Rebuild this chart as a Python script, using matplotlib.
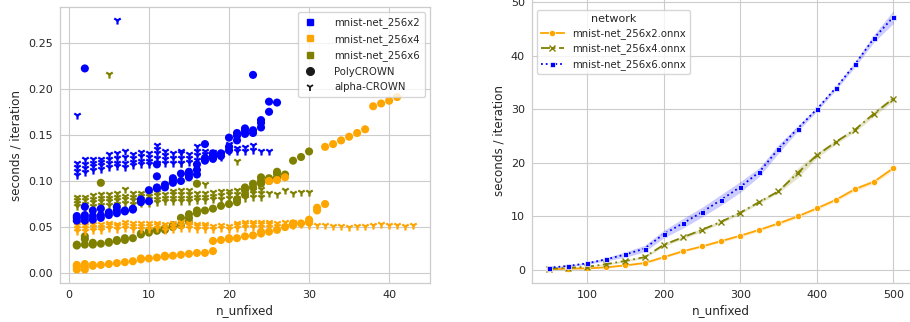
import matplotlib
matplotlib.use("Agg")
import matplotlib.pyplot as plt
from matplotlib.lines import Line2D
import numpy as np

# ---------------- left panel data (scatter) ----------------
poly_256x2_x = list(range(1, 27))
poly_256x2_y = [
    [0.057, 0.060, 0.062], [0.057, 0.060, 0.063, 0.072, 0.222], [0.058, 0.062, 0.068],
    [0.060, 0.063, 0.070], [0.063, 0.066], [0.065, 0.068, 0.072], [0.067, 0.068],
    [0.069, 0.070], [0.077, 0.080], [0.078, 0.090], [0.092, 0.093, 0.105, 0.118],
    [0.093, 0.096], [0.098, 0.101, 0.103], [0.100, 0.108], [0.104, 0.107, 0.110],
    [0.107, 0.112, 0.118], [0.122, 0.125, 0.140], [0.124, 0.127, 0.130], [0.127, 0.130],
    [0.133, 0.137, 0.147], [0.144, 0.149, 0.152], [0.151, 0.154, 0.157],
    [0.152, 0.155, 0.215], [0.158, 0.163, 0.166], [0.175, 0.186], [0.185],
]
alpha_256x2_x = list(range(1, 26))
alpha_256x2_y = [
    [0.107, 0.111, 0.115, 0.119, 0.172], [0.110, 0.114, 0.118, 0.124], [0.112, 0.116, 0.120, 0.124],
    [0.113, 0.117, 0.121, 0.124], [0.115, 0.119, 0.124, 0.129], [0.116, 0.120, 0.125, 0.130, 0.275],
    [0.115, 0.120, 0.126, 0.132], [0.117, 0.121, 0.125, 0.129], [0.118, 0.122, 0.127, 0.131],
    [0.118, 0.122, 0.126, 0.130], [0.120, 0.125, 0.130, 0.135, 0.139], [0.119, 0.124, 0.128, 0.133],
    [0.120, 0.125, 0.130], [0.120, 0.125, 0.130, 0.133], [0.121, 0.125, 0.129],
    [0.123, 0.128, 0.133, 0.138], [0.125, 0.129, 0.133], [0.125, 0.128, 0.131], [0.126, 0.130],
    [0.133, 0.137, 0.140], [0.133, 0.136], [0.133, 0.137], [0.134, 0.139], [0.133], [0.132],
]
poly_256x4_x = list(range(1, 42))
poly_256x4_y = [
    [0.004, 0.007, 0.009], [0.004, 0.007, 0.010], [0.008, 0.009], [0.009], [0.010], [0.011],
    [0.012], [0.013], [0.015, 0.016], [0.016], [0.017], [0.018, 0.019], [0.019], [0.020],
    [0.021], [0.022], [0.022], [0.024, 0.035], [0.036], [0.037, 0.038], [0.038], [0.040],
    [0.041], [0.043, 0.045], [0.045, 0.100], [0.047, 0.101], [0.050, 0.104], [0.052, 0.054],
    [0.054], [0.055, 0.058], [0.068, 0.071], [0.075, 0.137], [0.140], [0.144], [0.148],
    [0.152], [0.156], [0.181], [0.184], [0.187], [0.191],
]
alpha_256x4_x = list(range(1, 44))
alpha_256x4_y = [
    [0.046, 0.049, 0.052, 0.054], [0.046, 0.049, 0.052, 0.054], [0.047, 0.050, 0.053],
    [0.047, 0.050, 0.053], [0.049, 0.052, 0.054], [0.048, 0.051, 0.053], [0.049, 0.052, 0.055],
    [0.048, 0.051, 0.054], [0.048, 0.051, 0.054], [0.048, 0.051, 0.054], [0.049, 0.052, 0.054],
    [0.047, 0.050, 0.053], [0.048, 0.051, 0.054], [0.049, 0.052, 0.055], [0.049, 0.052, 0.054],
    [0.048, 0.051, 0.053], [0.048, 0.051, 0.053], [0.048, 0.051], [0.049, 0.052],
    [0.048, 0.051], [0.049, 0.052, 0.054], [0.050, 0.053, 0.056], [0.050, 0.053, 0.056],
    [0.050, 0.053, 0.055], [0.050, 0.053, 0.055], [0.051, 0.054], [0.051, 0.055],
    [0.052, 0.055], [0.053], [0.052, 0.055], [0.052], [0.052], [0.051], [0.051], [0.050],
    [0.051], [0.051], [0.052], [0.053], [0.052], [0.052], [0.051], [0.052],
]
poly_256x6_x = list(range(1, 31))
poly_256x6_y = [
    [0.030, 0.031], [0.031, 0.037, 0.040], [0.031, 0.033], [0.032, 0.098], [0.033, 0.034],
    [0.035, 0.036], [0.036, 0.038], [0.038], [0.042, 0.043], [0.044, 0.046], [0.046, 0.047],
    [0.047, 0.049], [0.050, 0.052], [0.052, 0.060], [0.056, 0.060, 0.064], [0.065, 0.068, 0.097],
    [0.068], [0.070], [0.073], [0.075], [0.077, 0.080], [0.085, 0.090, 0.093], [0.093, 0.097],
    [0.097, 0.100, 0.104], [0.100, 0.103], [0.104, 0.108, 0.110], [0.107], [0.122], [0.126],
    [0.132],
]
alpha_256x6_x = list(range(1, 31))
alpha_256x6_y = [
    [0.073, 0.076, 0.079, 0.083], [0.072, 0.075, 0.079, 0.083], [0.073, 0.077, 0.081, 0.085],
    [0.074, 0.078, 0.082, 0.086], [0.074, 0.078, 0.082, 0.086, 0.216], [0.075, 0.079, 0.083, 0.087],
    [0.076, 0.080, 0.084, 0.091], [0.075, 0.079, 0.083, 0.087], [0.076, 0.080, 0.084, 0.087],
    [0.076, 0.080, 0.084, 0.087], [0.077, 0.081, 0.085, 0.088], [0.078, 0.082, 0.086, 0.097],
    [0.078, 0.082, 0.086, 0.089], [0.078, 0.082, 0.086, 0.090, 0.120], [0.078, 0.082, 0.086, 0.090],
    [0.079, 0.083, 0.087], [0.079, 0.083, 0.087, 0.097], [0.080, 0.084, 0.088], [0.081, 0.085, 0.089],
    [0.082, 0.086, 0.089], [0.082, 0.086, 0.090, 0.122], [0.082, 0.086, 0.090], [0.083, 0.087, 0.090],
    [0.083, 0.087, 0.091], [0.087], [0.086], [0.090], [0.087], [0.088], [0.088],
]

# ---------------- right panel data (lines) ----------------
n_unfixed = [50, 75, 100, 125, 150, 175, 200, 225, 250, 275, 300, 325, 350, 375, 400, 425, 450, 475, 500]
net_256x2 = [0.12, 0.25, 0.3, 0.5, 0.87, 1.3, 2.4, 3.5, 4.4, 5.4, 6.4, 7.5, 8.7, 10.0, 11.5, 13.1, 15.1, 16.5, 19.0]
net_256x4 = [0.25, 0.4, 0.6, 1.1, 1.7, 2.4, 4.7, 6.1, 7.5, 9.0, 10.7, 12.7, 14.7, 18.1, 21.4, 23.9, 26.2, 29.2, 32.0]
net_256x6 = [0.44, 0.75, 1.25, 2.0, 2.9, 4.0, 6.7, 8.7, 10.8, 13.1, 15.5, 18.3, 22.6, 26.4, 30.0, 34.0, 38.4, 43.3, 47.2]
ci_256x2 = [0.05, 0.05, 0.1, 0.1, 0.15, 0.2, 0.2, 0.2, 0.2, 0.25, 0.25, 0.25, 0.3, 0.3, 0.3, 0.3, 0.4, 0.4, 0.4]
ci_256x4 = [0.05, 0.1, 0.1, 0.15, 0.2, 0.2, 0.3, 0.3, 0.3, 0.3, 0.3, 0.3, 0.3, 0.9, 0.5, 0.4, 0.4, 0.5, 0.5]
ci_256x6 = [0.1, 0.15, 0.2, 0.3, 0.5, 0.6, 0.7, 0.9, 0.9, 1.0, 1.0, 0.8, 0.8, 0.5, 0.4, 0.4, 0.5, 0.7, 1.2]

networks = ["mnist-net_256x2", "mnist-net_256x4", "mnist-net_256x6"]
colors_left = ["blue", "orange", "olive"]
colors_right = ["orange", "olive", "blue"]

GRID = "#cccccc"
TXT = "#262626"
plt.rcParams.update({
    "font.family": ["DejaVu Sans"],
    "axes.edgecolor": GRID,
    "axes.linewidth": 0.9,
    "text.color": TXT,
    "xtick.color": TXT,
    "ytick.color": TXT,
    "axes.labelcolor": TXT,
})

fig = plt.figure(figsize=(9.10, 3.22), dpi=100)
W, H = 910.0, 322.0

def style(ax):
    ax.set_facecolor("white")
    ax.grid(True, color=GRID, linewidth=0.8)
    ax.set_axisbelow(True)
    ax.tick_params(length=0, labelsize=8, pad=5)
    for s in ax.spines.values():
        s.set_color(GRID)

def flat(xs, ys):
    fx, fy = [], []
    for x, yl in zip(xs, ys):
        for y in yl:
            fx.append(x)
            fy.append(y)
    return fx, fy

# left axes
axL = fig.add_axes([60 / W, (H - 283) / H, 370 / W, 276 / H])
style(axL)
series = [
    (poly_256x6_x, poly_256x6_y, alpha_256x6_x, alpha_256x6_y, "olive"),
    (poly_256x4_x, poly_256x4_y, alpha_256x4_x, alpha_256x4_y, "orange"),
    (poly_256x2_x, poly_256x2_y, alpha_256x2_x, alpha_256x2_y, "blue"),
]
for px, py, axx, ayy, c in series:
    fx, fy = flat(axx, ayy)
    axL.scatter(fx, fy, marker="1", s=34, color=c, linewidths=1.6, zorder=3)
    fx, fy = flat(px, py)
    axL.scatter(fx, fy, marker="o", s=34, color=c, edgecolors="none", zorder=3)
axL.set_xlim(-1.1, 45.1)
axL.set_ylim(-0.0106, 0.2886)
axL.set_xticks([0, 10, 20, 30, 40])
axL.set_yticks([0.0, 0.05, 0.10, 0.15, 0.20, 0.25])
axL.set_yticklabels(["0.00", "0.05", "0.10", "0.15", "0.20", "0.25"])
axL.set_xlabel("n_unfixed", fontsize=8.6, labelpad=3)
axL.set_ylabel("seconds / iteration", fontsize=8.6, labelpad=4)

handles = [Line2D([], [], linestyle="none", marker="s", markersize=5, color=c) for c in colors_left]
handles += [Line2D([], [], linestyle="none", marker="o", markersize=5.5, color="#1a1a1a"),
            Line2D([], [], linestyle="none", marker="1", markersize=5.5, color="#1a1a1a", markeredgewidth=1.3)]
labels = networks + ["PolyCROWN", "alpha-CROWN"]
legL = axL.legend(handles, labels, loc="upper right", fontsize=7.3, frameon=True,
                  edgecolor=GRID, framealpha=0.8, borderpad=0.5, labelspacing=0.55,
                  handlelength=1.5, handletextpad=1.6)

# right axes
axR = fig.add_axes([531.7 / W, (H - 282.7) / H, 378.8 / W, 285.4 / H])
style(axR)
xs = np.array(n_unfixed)
line_styles = [("-", "o", 4.5), ((0, (5, 2, 1, 2)), "x", 3.8), (":", "s", 3.6)]
for vals, ci, c, (ls, mk, ms), name in zip([net_256x2, net_256x4, net_256x6],
                                            [ci_256x2, ci_256x4, ci_256x6],
                                            colors_right, line_styles, networks):
    v = np.array(vals)
    e = np.array(ci)
    axR.fill_between(xs, v - e, v + e, color=c, alpha=0.2, linewidth=0)
    if mk == "x":
        axR.plot(xs, v, linestyle=ls, marker=mk, markersize=ms, color=c, linewidth=1.3,
                 markeredgewidth=1.0, label=name + ".onnx")
    else:
        axR.plot(xs, v, linestyle=ls, marker=mk, markersize=ms, color=c, linewidth=1.3,
                 markeredgecolor="white", markeredgewidth=0.5, label=name + ".onnx")
axR.set_xlim(27.5, 522.5)
axR.set_ylim(-2.37, 50.9)
axR.set_xticks([100, 200, 300, 400, 500])
axR.set_yticks([0, 10, 20, 30, 40, 50])
axR.set_xlabel("n_unfixed", fontsize=8.6, labelpad=3)
axR.set_ylabel("seconds / iteration", fontsize=8.6, labelpad=4)
legR = axR.legend(loc="upper left", title="network", fontsize=7.3, title_fontsize=8,
                  frameon=True, edgecolor=GRID, framealpha=0.8, borderpad=0.4,
                  labelspacing=0.45, handlelength=2.3, bbox_to_anchor=(0.0, 0.975))

fig.savefig("out.png", dpi=100, facecolor="white")
